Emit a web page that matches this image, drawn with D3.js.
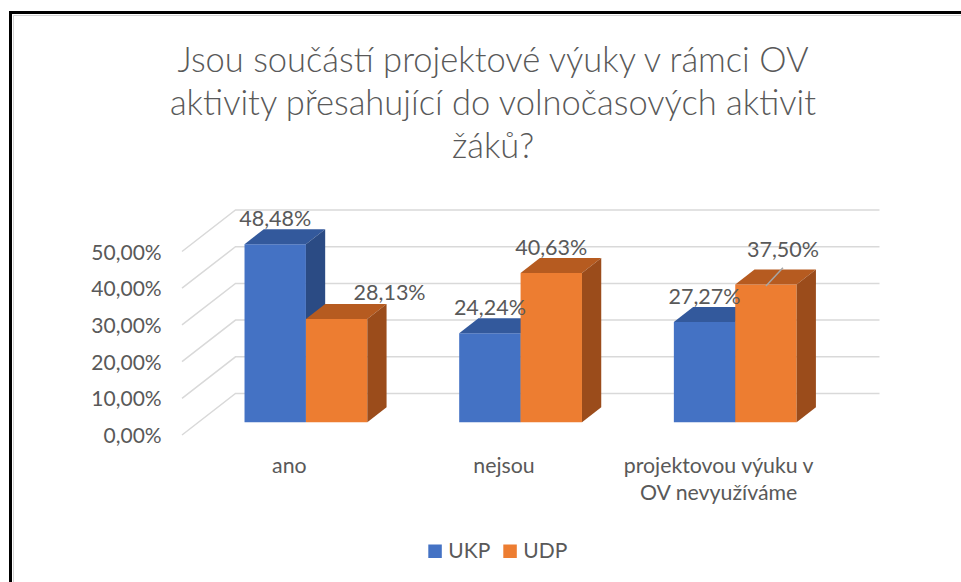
<!DOCTYPE html>
<html>
<head>
<meta charset="utf-8">
<script src="https://cdn.jsdelivr.net/npm/d3@7/dist/d3.min.js"></script>
<style>
  body { margin: 0; background: #fff; }
  svg text { font-family: Lato, "Open Sans", sans-serif; fill: #595959; }
</style>
</head>
<body>
<svg id="chart" width="961" height="582"></svg>
<script>
// chart data
const categories = ["ano", "nejsou", "projektovou výuku v OV nevyužíváme"];
const categoryLines = [["ano"], ["nejsou"], ["projektovou výuku v", "OV nevyužíváme"]];
const seriesNames = ["UKP", "UDP"];
const ukpValues = [0.4848, 0.2424, 0.2727];
const udpValues = [0.2813, 0.4063, 0.3750];
const yTicks = [0, 0.1, 0.2, 0.3, 0.4, 0.5];
const titleLines = [
  "Jsou součástí projektové výuky v rámci OV",
  "aktivity přesahující do volnočasových aktivit",
  "žáků?"
];

const colors = {
  UKP: { front: "#4472c4", top: "#33599c", side: "#2b4b84" },
  UDP: { front: "#ed7d31", top: "#b65b20", side: "#9b4c1b" }
};

// hand placed labels in the original (dx, dy in px)
const labelNudge = { "UDP-ano": [53, -1.5], "UDP-projektovou výuku v OV nevyužíváme": [17, -10] };

const svg = d3.select("#chart");
const fmt = v => d3.format(".2f")(v * 100).replace(".", ",") + "%";

// back wall scales
const x = d3.scaleBand().domain(categories).range([235.5, 879.5]);
const xs = d3.scaleBand().domain(seriesNames)
  .range([x.bandwidth() * 0.214, x.bandwidth() * 0.786]);
const y = d3.scaleLinear().domain([0, 0.5]).range([393.5, 210]);

// oblique depth: back wall (z=1) -> front edge of floor (z=0)
const depth = { dx: 53.5, dy: 41.5 };
function P(xb, v, z) {
  const k = 1 - z;
  return [xb - k * depth.dx, y(v) + k * depth.dy];
}
const zFront = 0.31, zBack = 0.67;

// frame
svg.append("path")
  .attr("d", "M13.5,582V15.5H961")
  .attr("fill", "none").attr("stroke", "#d4d4d4").attr("stroke-width", 1);
svg.append("path")
  .attr("d", "M10.5,582V12.5H961")
  .attr("fill", "none").attr("stroke", "#000").attr("stroke-width", 3);

// title
svg.append("text")
  .attr("text-anchor", "middle")
  .style("font-size", "34.5px").style("font-weight", 300)
  .selectAll("tspan").data(titleLines).join("tspan")
  .attr("x", 493)
  .attr("y", (d, i) => 72 + i * 43)
  .text(d => d);

// gridlines: floor diagonal + back wall
const x0 = x.range()[0], x1 = x.range()[1];
svg.append("g").selectAll("path").data(yTicks).join("path")
  .attr("d", t => d3.line()([P(x0, t, 0), P(x0, t, 1), P(x1, t, 1)]))
  .attr("fill", "none").attr("stroke", "#d9d9d9").attr("stroke-width", 1.5);

// y axis labels
svg.append("g").selectAll("text").data(yTicks).join("text")
  .attr("x", 161.7)
  .attr("y", t => P(x0, t, 0)[1] + 8)
  .attr("text-anchor", "end")
  .style("font-size", "21px")
  .text(fmt);

// bars
const seriesData = [ukpValues, udpValues];
const bars = svg.append("g");
categories.forEach((cat, ci) => {
  seriesNames.forEach((s, si) => {
    const v = seriesData[si][ci];
    const a = x(cat) + xs(s), b = a + xs.bandwidth();
    const c = colors[s];
    const poly = pts => "M" + pts.map(p => p.join(",")).join("L") + "Z";
    bars.append("path").attr("fill", c.front)
      .attr("d", poly([P(a, 0, zFront), P(b, 0, zFront), P(b, v, zFront), P(a, v, zFront)]));
    bars.append("path").attr("fill", c.top)
      .attr("d", poly([P(a, v, zFront), P(b, v, zFront), P(b, v, zBack), P(a, v, zBack)]));
    bars.append("path").attr("fill", c.side)
      .attr("d", poly([P(b, 0, zFront), P(b, v, zFront), P(b, v, zBack), P(b, 0, zBack)]));
  });
});

// data labels
const labels = svg.append("g");
categories.forEach((cat, ci) => {
  seriesNames.forEach((s, si) => {
    const v = seriesData[si][ci];
    const a = x(cat) + xs(s);
    const top = P(a + xs.bandwidth() / 2, v, zFront);
    const n = labelNudge[s + "-" + cat] || [0, 0];
    const lx = top[0] + n[0], ly = top[1] - 17.8 + n[1];
    if (n[1] < -5) {
      labels.append("line")
        .attr("x1", top[0]).attr("y1", top[1] + 1.5)
        .attr("x2", lx).attr("y2", ly + 11)
        .attr("stroke", "#a6a6a6").attr("stroke-width", 1.5);
    }
    labels.append("text")
      .attr("x", lx).attr("y", ly)
      .attr("text-anchor", "middle")
      .style("font-size", "21.5px")
      .text(fmt(v));
  });
});

// category labels
svg.append("g").selectAll("text").data(categories).join("text")
  .attr("text-anchor", "middle")
  .style("font-size", "21.3px")
  .each(function (cat, ci) {
    const cx = P(x(cat) + x.bandwidth() / 2, 0, 0)[0];
    d3.select(this).selectAll("tspan").data(categoryLines[ci]).join("tspan")
      .attr("x", cx)
      .attr("y", (d, i) => 472.7 + i * 27.3)
      .text(d => d);
  });

// legend
const legendX = [428.3, 503.3];
const legend = svg.append("g").selectAll("g").data(seriesNames).join("g")
  .attr("transform", (d, i) => `translate(${legendX[i]},544.5)`);
legend.append("rect")
  .attr("width", 13.5).attr("height", 13.5)
  .attr("fill", d => colors[d].front);
legend.append("text")
  .attr("x", 20).attr("y", 13.8)
  .style("font-size", "21px")
  .text(d => d);
</script>
</body>
</html>
